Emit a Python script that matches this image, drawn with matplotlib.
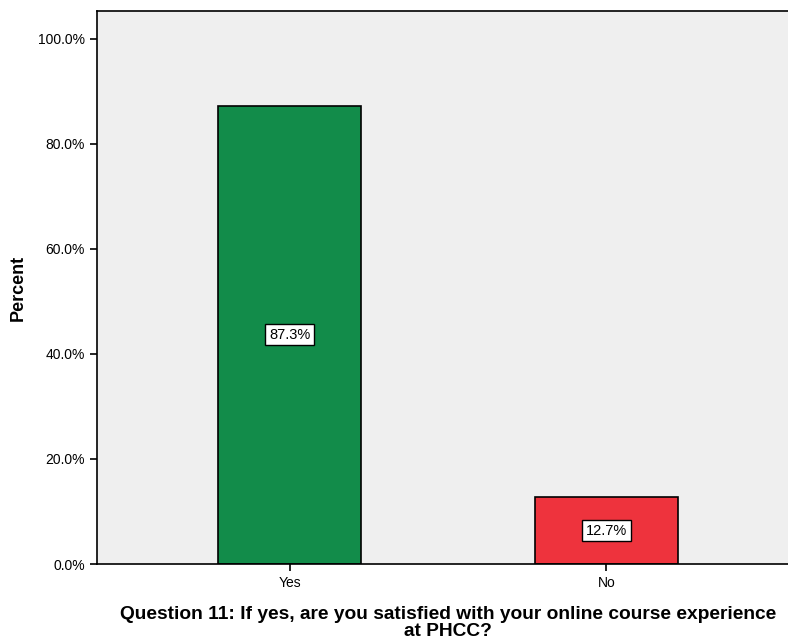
import matplotlib.pyplot as plt
import numpy as np

plt.rcParams['font.family'] = ['Liberation Sans', 'DejaVu Sans']

# data
categories = ['Yes', 'No']
percents = [87.3, 12.7]
bar_colors = ['#128C4A', '#EE333D']
yticks = [0, 20, 40, 60, 80, 100]

fig = plt.figure(figsize=(7.88, 6.44), dpi=100)
ax = fig.add_axes([96.5 / 788, 80 / 644, 703 / 788, 553 / 644])
ax.set_facecolor('#EFEFEF')

x = np.arange(len(categories))
bars = ax.bar(x, percents, width=0.45, color=bar_colors,
              edgecolor='black', linewidth=1.2, zorder=2)

# value labels in white boxes, centred on the bars
for b, v in zip(bars, percents):
    ax.text(b.get_x() + b.get_width() / 2, v / 2, f'{v:.1f}%',
            ha='center', va='center', fontsize=10.5,
            bbox=dict(boxstyle='square,pad=0.25', fc='white', ec='black', lw=1),
            zorder=3)

ax.set_xlim(-0.61, 1.61)
ax.set_ylim(0, 105.3)
ax.set_xticks(x)
ax.set_xticklabels(categories, fontsize=10)
ax.set_yticks(yticks)
ax.set_yticklabels([f'{t:.1f}%' for t in yticks], fontsize=10)
ax.tick_params(direction='out', length=5, width=1.2, color='black')

for side in ['left', 'bottom', 'top']:
    ax.spines[side].set_linewidth(1.2)
ax.spines['right'].set_visible(False)

ax.set_ylabel('Percent', fontsize=13, fontweight='bold', labelpad=8)
ax.set_xlabel('Question 11: If yes, are you satisfied with your online course experience\nat PHCC?',
              fontsize=13.8, fontweight='bold', labelpad=12, linespacing=0.98)

fig.savefig('out.png', dpi=100)
